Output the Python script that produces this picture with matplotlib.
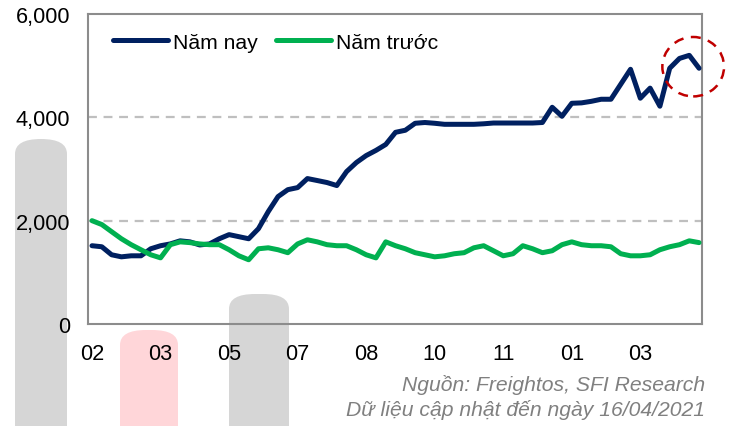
"""
Container freight index: this year vs last year (weekly).
Recreated with matplotlib.
"""

import matplotlib
matplotlib.use("Agg")
import matplotlib.pyplot as plt
from matplotlib.patches import Ellipse, FancyBboxPatch

plt.rcParams["font.family"] = ["Liberation Sans", "DejaVu Sans"]

# -----------------------------------------------------------------
# DATA (weekly points)
# -----------------------------------------------------------------
nam_nay = [1515, 1495, 1340, 1300, 1320, 1320, 1456, 1515, 1550, 1610,
           1590, 1530, 1550, 1650, 1730, 1690, 1650, 1845, 2175, 2466,
           2600, 2640, 2815, 2777, 2738, 2680, 2950, 3125, 3260, 3360,
           3475, 3710, 3750, 3885, 3900, 3885, 3865, 3865, 3865, 3865,
           3875, 3890, 3890, 3890, 3890, 3890, 3900, 4195, 4020, 4272,
           4280, 4310, 4350, 4350, 4640, 4930, 4370, 4565, 4215, 4950,
           5140, 5200, 4950]

nam_truoc = [2000, 1925, 1787, 1650, 1535, 1437, 1340, 1280, 1535, 1590,
             1575, 1550, 1535, 1535, 1437, 1320, 1243, 1456, 1475, 1437,
             1380, 1550, 1630, 1590, 1535, 1515, 1515, 1437, 1340, 1280,
             1590, 1515, 1456, 1380, 1340, 1300, 1320, 1360, 1380, 1475,
             1515, 1418, 1320, 1360, 1515, 1456, 1380, 1418, 1535, 1590,
             1535, 1515, 1515, 1495, 1360, 1320, 1320, 1340, 1437, 1495,
             1535, 1610, 1575]

# a month label every 7 weeks
tick_pos = [0, 7, 14, 21, 28, 35, 42, 49, 56]
tick_labels = ["02", "03", "05", "07", "08", "10", "11", "01", "03"]

y_ticks = [0, 2000, 4000, 6000]

NAVY = "#002060"
GREEN = "#00B050"
FRAME = "#8C8C8C"

fig = plt.figure(figsize=(7.43, 4.27), dpi=100)

# blurred blobs sitting behind the chart in the reference
for (x0, y0, w, h, col) in [(15, 140, 52, 400, "#D6D6D6"),
                            (120, 331, 58, 200, "#FFD6D9"),
                            (229, 295, 60, 200, "#D6D6D6")]:
    blob = FancyBboxPatch((x0 / 743, 1 - (y0 + h) / 427), w / 743, h / 427,
                          boxstyle="round,pad=0,rounding_size=0.035",
                          transform=fig.transFigure, facecolor=col,
                          edgecolor="none", zorder=-1)
    fig.patches.append(blob)

ax = fig.add_axes([88 / 743, 1 - 325 / 427, 614 / 743, 310 / 427])
ax.set_zorder(1)
ax.patch.set_alpha(0)

x = list(range(len(nam_nay)))
ax.plot(x, nam_nay, color=NAVY, lw=3.6, solid_joinstyle="round",
        solid_capstyle="round", label="Năm nay", zorder=3)
ax.plot(x, nam_truoc, color=GREEN, lw=3.6, solid_joinstyle="round",
        solid_capstyle="round", label="Năm trước", zorder=3)

# dashed reference lines at 2,000 and 4,000
for yv in y_ticks[1:-1]:
    ax.axhline(yv, color="#BFBFBF", lw=1.6, ls=(0, (4, 3)), zorder=1)

ax.set_xlim(-0.41, 62.3)
ax.set_ylim(0, 6000)
ax.set_xticks(tick_pos)
ax.set_xticklabels(tick_labels)
ax.set_yticks(y_ticks)
ax.set_yticklabels([f"{v:,}" for v in y_ticks])
ax.tick_params(length=0, labelsize=15.7, colors="black")
ax.tick_params(axis="y", pad=13)
ax.tick_params(axis="x", pad=14)

for sp in ax.spines.values():
    sp.set_color(FRAME)
    sp.set_linewidth(1.5)

# red dashed circle around the latest weeks
circle = Ellipse((61.4, 4980), width=6.3, height=1150, fill=False,
                 edgecolor="#C00000", lw=1.8, ls=(0, (4, 3)),
                 clip_on=False, zorder=4)
ax.add_patch(circle)

ax.legend(loc="upper left", bbox_to_anchor=(0.041, 0.94), ncol=2,
          frameon=False, fontsize=15.2, handlelength=2.6,
          handletextpad=0.24, columnspacing=0.85, borderpad=0,
          borderaxespad=0)

fig.text(705 / 743, 1 - 385 / 427, "Nguồn: Freightos, SFI Research",
         ha="right", va="center", style="italic", color="#808080",
         fontsize=15.2)
fig.text(705 / 743, 1 - 410 / 427, "Dữ liệu cập nhật đến ngày 16/04/2021",
         ha="right", va="center", style="italic", color="#808080",
         fontsize=15.2)

fig.savefig("out.png", dpi=100)
